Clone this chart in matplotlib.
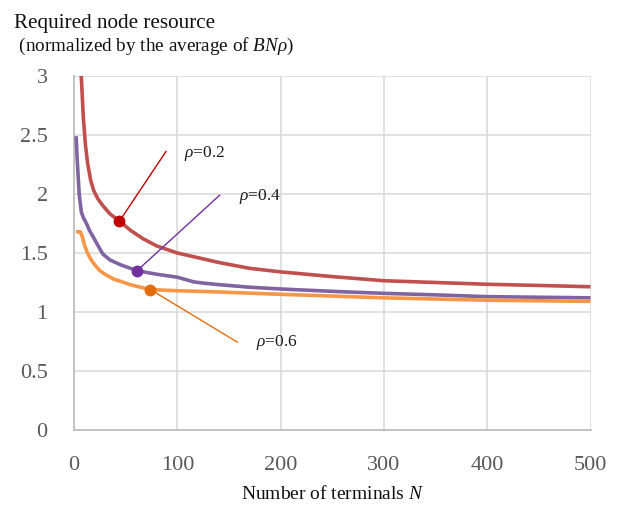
"""
Recursos de no requeridos vs numero de terminais N (rho = 0.2, 0.4, 0.6).
Saida: out.png
"""

import matplotlib.pyplot as plt

IMG_OUT = "out.png"

# rho = 0.2
N_R02 = [5, 7, 9, 11, 13, 16, 19, 23, 28, 35, 44, 55, 67, 80, 100, 120, 140, 170,
         200, 250, 300, 350, 400, 450, 500]
V_R02 = [3.45, 3.0, 2.65, 2.42, 2.27, 2.12, 2.03, 1.96, 1.90, 1.83, 1.77, 1.69, 1.62,
         1.56, 1.50, 1.46, 1.42, 1.37, 1.34, 1.30, 1.265, 1.25, 1.235, 1.225, 1.214]

# rho = 0.4
N_R04 = [2, 3, 5, 7, 9, 12, 15, 19, 24, 28, 35, 45, 61, 80, 100, 108, 116, 125, 140,
         170, 200, 250, 300, 350, 400, 450, 500]
V_R04 = [2.49, 2.30, 2.0, 1.85, 1.80, 1.75, 1.69, 1.63, 1.55, 1.49, 1.44, 1.40, 1.35,
         1.32, 1.295, 1.275, 1.255, 1.245, 1.232, 1.21, 1.195, 1.175, 1.158, 1.145,
         1.13, 1.125, 1.12]

# rho = 0.6
N_R06 = [2, 4, 6, 8, 10, 13, 16, 20, 25, 30, 38, 45, 55, 74, 100, 140, 190, 250, 300,
         350, 400, 450, 500]
V_R06 = [1.68, 1.68, 1.68, 1.64, 1.57, 1.50, 1.45, 1.40, 1.35, 1.32, 1.28, 1.26, 1.23,
         1.19, 1.18, 1.17, 1.153, 1.135, 1.12, 1.11, 1.10, 1.095, 1.09]

# marcadores / anotacoes: (N, valor) do ponto, fim da linha guia, posicao do texto
MARCAS = [0.2, 0.4, 0.6]
PONTO = [(44, 1.77), (61, 1.35), (74, 1.19)]
GUIA_FIM = [(89, 2.36), (141, 1.99), (158, 0.745)]
TEXTO_POS = [(106, 2.34), (160, 1.98), (176, 0.74)]

X_TICKS = [0, 100, 200, 300, 400, 500]
Y_TICKS = [0, 0.5, 1, 1.5, 2, 2.5, 3]
Y_TICK_LABELS = ["0", "0.5", "1", "1.5", "2", "2.5", "3"]

CORES_LINHA = ["#C0504D", "#8064A2", "#F79646"]
CORES_PONTO = ["#C00000", "#7030A0", "#E46C0A"]


def main() -> None:
    plt.rcParams["font.family"] = ["Liberation Serif", "DejaVu Serif"]
    plt.rcParams["mathtext.fontset"] = "custom"
    plt.rcParams["mathtext.it"] = "Liberation Serif:italic"
    plt.rcParams["mathtext.rm"] = "Liberation Serif"

    fig = plt.figure(figsize=(6.36, 5.11), dpi=100)
    ax = fig.add_axes([0.1164, 0.1585, 0.8121, 0.6928])

    series = [(N_R02, V_R02), (N_R04, V_R04), (N_R06, V_R06)]
    for (xs, ys), cor in zip(series, CORES_LINHA):
        ax.plot(xs, ys, color=cor, lw=2.6, solid_capstyle="butt",
                solid_joinstyle="round", zorder=3)

    for i, rho in enumerate(MARCAS):
        px, py = PONTO[i]
        gx, gy = GUIA_FIM[i]
        tx, ty = TEXTO_POS[i]
        ax.plot([px, gx], [py, gy], color=CORES_PONTO[i], lw=1.0, zorder=4)
        ax.plot(px, py, "o", color=CORES_PONTO[i], ms=7.5, zorder=5)
        ax.text(tx, ty, rf"$\rho$={rho}", fontsize=12.5, va="center", ha="left",
                color="#1a1a1a")

    ax.set_xlim(0, 500)
    ax.set_ylim(0, 3)
    ax.set_xticks(X_TICKS)
    ax.set_yticks(Y_TICKS)
    ax.set_yticklabels(Y_TICK_LABELS)
    ax.tick_params(length=0, labelsize=16, labelcolor="#595959")
    ax.tick_params(axis="y", pad=19)
    ax.tick_params(axis="x", pad=19)
    ax.grid(True, color="#D9D9D9", lw=1.1)
    ax.set_axisbelow(True)
    for lado in ["top", "right"]:
        ax.spines[lado].set_visible(False)
    for lado in ["left", "bottom"]:
        ax.spines[lado].set_color("#BFBFBF")
        ax.spines[lado].set_linewidth(1.3)

    fig.text(0.022, 0.945, "Required node resource", fontsize=15.2, ha="left",
             va="baseline", color="#111111")
    fig.text(0.022, 0.900, r" (normalized by the average of $BN\rho$)", fontsize=13.8,
             ha="left", va="baseline", color="#111111")
    ax.set_xlabel(r"Number of terminals $N$", fontsize=14, color="#111111",
                  labelpad=7)

    plt.savefig(IMG_OUT, dpi=100)
    plt.close()


if __name__ == "__main__":
    main()
